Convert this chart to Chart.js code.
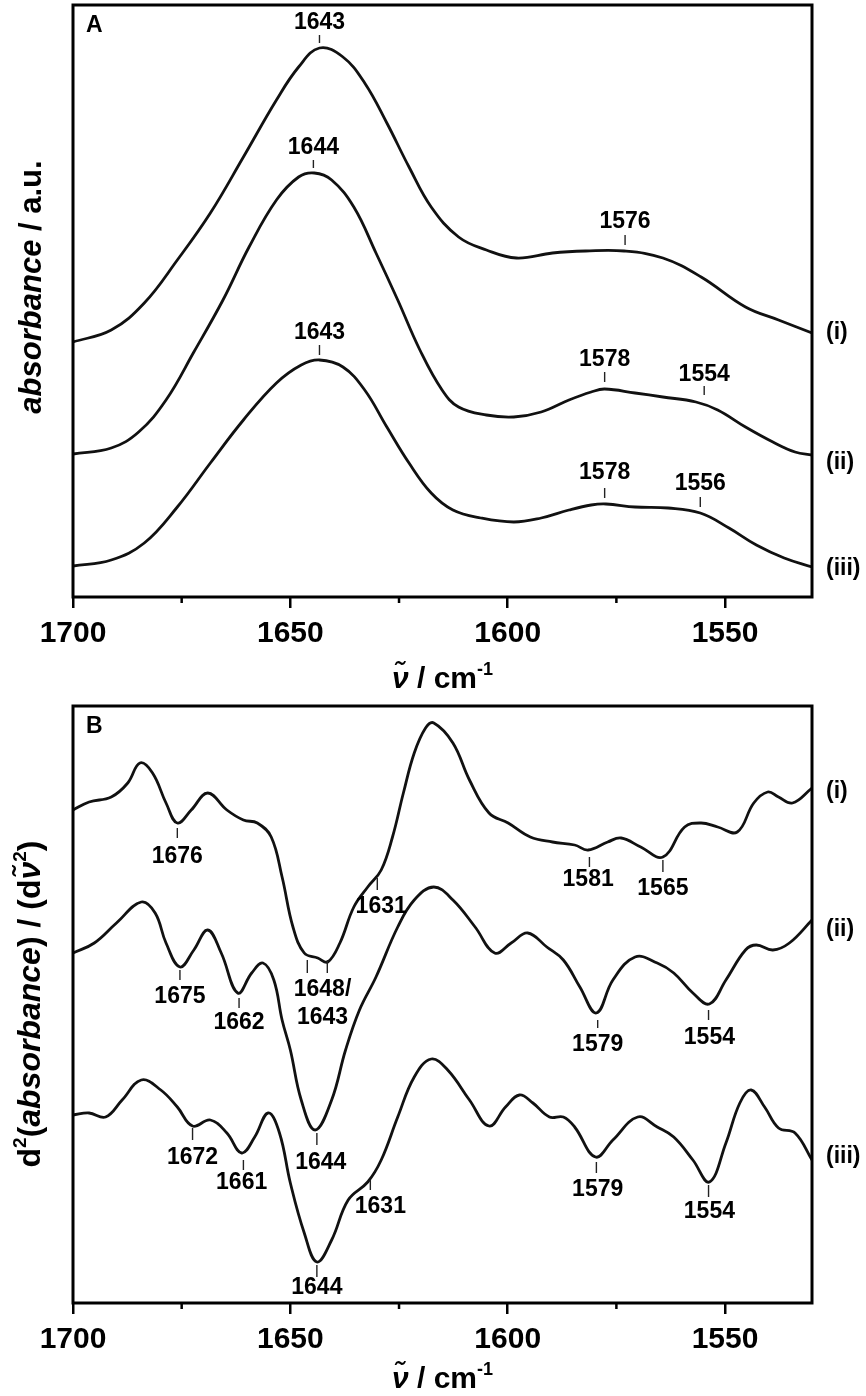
<!DOCTYPE html>
<html>
<head>
<meta charset="utf-8">
<script src="https://cdn.jsdelivr.net/npm/chart.js@4.4.0/dist/chart.umd.min.js"></script>
<style>
  body { margin: 0; background: #fff; }
  canvas { display: block; }
</style>
</head>
<body>
<canvas id="chartA" width="866" height="700"></canvas>
<canvas id="chartB" width="866" height="696"></canvas>
<script>
// Panel A: absorbance (unidades arbitrarias, curvas desplazadas)
const wnA1 = [1700, 1691.2, 1683.6, 1676, 1668.4, 1660.8, 1653.2, 1648.1, 1643.3, 1637.9, 1632.9, 1627.8, 1622.7, 1617.6, 1611.3, 1604.9, 1598, 1589.7, 1582.1, 1573.2, 1564.3, 1555.5, 1545.3, 1537.7, 1530];
const absA1 = [255, 267, 294, 337, 384, 440, 497, 530, 549, 540, 514, 474, 430, 390, 360, 347, 339, 344, 346, 346, 339, 320, 290, 277, 264];

const wnA2 = [1700, 1691.2, 1684.9, 1678.6, 1672.2, 1665.5, 1659.5, 1653.2, 1648.1, 1644.5, 1640.5, 1635.4, 1630.3, 1625.3, 1620.2, 1615.1, 1611.3, 1604.9, 1598.6, 1592.3, 1585.9, 1580.8, 1577.7, 1570.7, 1564.3, 1556.7, 1551.7, 1545.3, 1539, 1533.9, 1530];
const absA2 = [143, 149, 165, 197, 245, 297, 350, 397, 420, 424, 417, 390, 344, 297, 247, 207, 190, 182, 180, 185, 197, 205, 208, 204, 200, 195, 187, 170, 155, 145, 142];

const wnA3 = [1700, 1691.2, 1683.6, 1676, 1668.4, 1660.8, 1653.2, 1647.5, 1643.3, 1637.9, 1632.9, 1627.8, 1622.7, 1617.6, 1612.6, 1606.2, 1598.6, 1592.3, 1585.9, 1580.8, 1577.4, 1570.7, 1563.1, 1555.7, 1549.1, 1542.8, 1536.4, 1530];
const absA3 = [31, 37, 54, 90, 134, 177, 214, 232, 237, 230, 207, 170, 134, 104, 87, 79, 75, 79, 87, 92, 93, 90, 89, 84, 69, 52, 39, 30];

// Panel B: segunda derivada (curvas desplazadas)
const wnB1 = [1700, 1696.3, 1691.2, 1687.4, 1684.6, 1681.7, 1678.6, 1676, 1672.8, 1669, 1664.6, 1660.8, 1657.6, 1654.4, 1651.9, 1649.4, 1646.8, 1643.7, 1641.4, 1638.6, 1635.4, 1632.2, 1629.1, 1626.5, 1624, 1621.5, 1618.9, 1617, 1612.6, 1608.8, 1604.3, 1599.9, 1594.8, 1589.7, 1584.6, 1581.5, 1577, 1573.9, 1569.4, 1564.3, 1559.3, 1555.5, 1551.7, 1547.2, 1543.4, 1540.2, 1537.7, 1534.5, 1530];
const d2B1 = [493, 501, 506, 520, 540, 530, 500, 480, 493, 510, 493, 483, 480, 466, 426, 376, 350, 345, 341, 360, 396, 416, 433, 466, 510, 550, 575, 580, 560, 523, 490, 480, 466, 461, 458, 453, 461, 465, 456, 446, 476, 480, 476, 471, 500, 511, 506, 500, 515];

const wnB2 = [1700, 1695.1, 1690, 1684.3, 1681.1, 1678.6, 1675.4, 1672.2, 1669, 1665.9, 1662.1, 1658.9, 1656.3, 1653.8, 1651.9, 1650, 1647.5, 1644.3, 1640.5, 1637.3, 1634.1, 1630.3, 1625.3, 1621.5, 1617, 1612.6, 1607.5, 1603, 1599.2, 1595.4, 1591, 1587.2, 1583.4, 1579.6, 1575.8, 1570.7, 1565.6, 1561.8, 1557.4, 1553.6, 1549.8, 1545.3, 1542.8, 1539, 1535.2, 1530];
const d2B2 = [350, 360, 380, 401, 390, 360, 336, 353, 373, 350, 310, 330, 340, 323, 283, 253, 203, 173, 203, 253, 293, 326, 376, 403, 416, 403, 376, 350, 360, 370, 356, 343, 316, 290, 323, 346, 340, 330, 310, 299, 323, 353, 358, 353, 360, 383];

const wnB3 = [1700, 1696.3, 1692.5, 1688.7, 1684.3, 1679.8, 1676, 1672.5, 1668.4, 1664.6, 1661.2, 1658.2, 1655.1, 1652.5, 1650, 1646.8, 1643.9, 1640.5, 1636.7, 1632.2, 1629.1, 1625.3, 1621.5, 1617.6, 1613.8, 1608.8, 1604.3, 1600.5, 1597.3, 1594.2, 1590.4, 1587.2, 1584.6, 1579.8, 1575.8, 1570.1, 1565.6, 1561.8, 1557.4, 1553.6, 1549.8, 1546.6, 1544, 1540.9, 1537.7, 1533.9, 1530];
const d2B3 = [188, 190, 186, 203, 223, 213, 196, 177, 183, 170, 150, 166, 190, 170, 120, 70, 41, 63, 103, 121, 143, 186, 226, 244, 233, 203, 177, 196, 208, 200, 186, 186, 176, 146, 163, 186, 176, 166, 143, 121, 160, 200, 213, 196, 175, 170, 143];

// etiquetas de los picos (texto, x de la marca, extremos de la marca, posición del texto)
const annA_text = ['1643', '1644', '1576', '1643', '1578', '1554', '1578', '1556'];
const annA_x = [1643.3, 1644.7, 1573, 1643.3, 1577.7, 1554.8, 1577.7, 1555.7];
const annA_tx = annA_x;
const annA_y0 = [554, 429, 352, 242, 215, 202, 99, 90];
const annA_y1 = [562, 437, 362, 252, 225, 211, 109, 100];
const annA_ty = [574, 449, 375, 264, 237, 222, 124, 113];

const annB_text = ['1676', '1631', '1581', '1565', '1675', '1662', '1648/', '1643', '1579', '1554', '1672', '1661', '1644', '1631', '1644', '1579', '1554'];
const annB_x = [1676, 1630, 1581.2, 1564.3, 1675.4, 1661.8, 1646.1, 1641.5, 1579.3, 1553.8, 1672.5, 1660.8, 1643.9, 1631.6, 1643.9, 1579.6, 1553.8];
const annB_tx = [1676, 1629.1, 1581.5, 1564.3, 1675.4, 1661.8, 1642.6, 1642.6, 1579.3, 1553.6, 1672.5, 1661.2, 1643, 1629.3, 1643.9, 1579.3, 1553.6];
const annB_y0 = [475, 425, 446, 443, 333, 305, 343, 343, 283, 293, 175, 143, 170, 123, 38, 141, 118];
const annB_y1 = [465, 413, 436, 431, 323, 295, 330, 330, 275, 283, 163, 133, 158, 113, 26, 130, 106];
const annB_ty = [446, 396, 423, 414, 306, 280, 313, 285, 258, 265, 145, 120, 140, 96, 15, 113, 91];

// nombres de las curvas a la derecha
const curveNames = ['(i)', '(ii)', '(iii)'];
const namesA_y = [264, 134, 28];
const namesB_y = [511, 373, 146];

const FONT = '"Liberation Sans", Arial, sans-serif';

function toPoints(xs, ys) {
  return xs.map((x, i) => ({ x: x, y: ys[i] }));
}

// dibuja un texto con partes de distinto estilo, centrado en cx, con la linea base en cy
function drawParts(ctx, parts, cx, cy) {
  let total = 0;
  parts.forEach(p => {
    ctx.font = `${p[1]} ${p[2]}px ${FONT}`;
    total += ctx.measureText(p[0]).width;
  });
  let x = cx - total / 2;
  ctx.textAlign = 'left';
  ctx.textBaseline = 'alphabetic';
  parts.forEach(p => {
    ctx.font = `${p[1]} ${p[2]}px ${FONT}`;
    ctx.fillText(p[0], x, cy - (p[3] || 0));
    x += ctx.measureText(p[0]).width;
  });
}

function makeDecor(cfg) {
  return {
    id: 'decor' + cfg.panel,
    afterDraw(chart) {
      const ctx = chart.ctx;
      const area = chart.chartArea;
      const xs = chart.scales.x;
      const ys = chart.scales.y;
      ctx.save();
      ctx.fillStyle = '#000';
      ctx.strokeStyle = '#000';

      // marco
      ctx.lineWidth = 3;
      ctx.strokeRect(area.left, area.top, area.right - area.left, area.bottom - area.top);

      // marcas menores del eje x
      ctx.lineWidth = 2.5;
      xs.ticks.forEach(t => {
        if (t.value % 25 === 0 && t.value % 50 !== 0) {
          const px = xs.getPixelForValue(t.value);
          ctx.beginPath();
          ctx.moveTo(px, area.bottom);
          ctx.lineTo(px, area.bottom + 6);
          ctx.stroke();
        }
      });

      // etiquetas de los picos
      ctx.lineWidth = 1.4;
      ctx.strokeStyle = '#222';
      ctx.font = `bold 23px ${FONT}`;
      ctx.textAlign = 'center';
      ctx.textBaseline = 'middle';
      cfg.text.forEach((txt, i) => {
        const px = xs.getPixelForValue(cfg.x[i]);
        ctx.beginPath();
        ctx.moveTo(px, ys.getPixelForValue(cfg.y0[i]));
        ctx.lineTo(px, ys.getPixelForValue(cfg.y1[i]));
        ctx.stroke();
        ctx.fillText(txt, xs.getPixelForValue(cfg.tx[i]), ys.getPixelForValue(cfg.ty[i]));
      });

      // nombres de las curvas
      ctx.textAlign = 'left';
      curveNames.forEach((n, i) => {
        ctx.fillText(n, area.right + 14, ys.getPixelForValue(cfg.names[i]));
      });

      // letra del panel
      ctx.font = `bold 23px ${FONT}`;
      ctx.textBaseline = 'middle';
      ctx.fillText(cfg.panel, area.left + 13, area.top + 21);

      // titulo del eje x
      drawParts(ctx, [
        ['\u03BD\u0303', 'bold italic', 30],
        [' / cm', 'bold', 30],
        ['-1', 'bold', 18, 13]
      ], (area.left + area.right) / 2, area.bottom + cfg.xTitleOffset);

      // titulo del eje y (girado)
      ctx.translate(cfg.yTitleX, cfg.yTitleY);
      ctx.rotate(-Math.PI / 2);
      drawParts(ctx, cfg.yTitle, 0, 0);
      ctx.restore();
    }
  };
}

function makeChart(id, series, yMax, pad, axisHeight, decor) {
  return new Chart(document.getElementById(id), {
    type: 'line',
    data: {
      datasets: series.map(s => ({
        data: s,
        borderColor: '#111',
        borderWidth: 2.8,
        pointRadius: 0,
        tension: 0.4,
        fill: false
      }))
    },
    options: {
      responsive: false,
      animation: false,
      devicePixelRatio: 1,
      layout: { padding: pad },
      plugins: { legend: { display: false }, tooltip: { enabled: false } },
      scales: {
        x: {
          type: 'linear',
          reverse: true,
          min: 1530,
          max: 1700,
          border: { display: false },
          grid: {
            drawOnChartArea: false,
            drawTicks: true,
            tickLength: 11,
            lineWidth: 2.5,
            color: ctx => (ctx.tick && ctx.tick.value % 50 === 0 ? '#000' : 'rgba(0,0,0,0)')
          },
          ticks: {
            stepSize: 25,
            includeBounds: false,
            autoSkip: false,
            maxRotation: 0,
            padding: 8,
            color: '#000',
            font: { family: FONT, size: 30, weight: 'bold' },
            callback: v => (v % 50 === 0 ? String(v) : '')
          },
          afterFit: scale => { scale.height = axisHeight; }
        },
        y: { display: false, min: 0, max: yMax }
      }
    },
    plugins: [decor]
  });
}

makeChart('chartA',
  [toPoints(wnA1, absA1), toPoints(wnA2, absA2), toPoints(wnA3, absA3)],
  592, { top: 5, left: 73, right: 54, bottom: 0 }, 103,
  makeDecor({
    panel: 'A',
    text: annA_text, x: annA_x, tx: annA_tx, y0: annA_y0, y1: annA_y1, ty: annA_ty,
    names: namesA_y,
    xTitleOffset: 91,
    yTitleX: 41, yTitleY: 287,
    yTitle: [
      ['absorbance', 'bold italic', 31],
      [' / a.u.', 'bold', 31]
    ]
  }));

makeChart('chartB',
  [toPoints(wnB1, d2B1), toPoints(wnB2, d2B2), toPoints(wnB3, d2B3)],
  597, { top: 6, left: 73, right: 54, bottom: 0 }, 93,
  makeDecor({
    panel: 'B',
    text: annB_text, x: annB_x, tx: annB_tx, y0: annB_y0, y1: annB_y1, ty: annB_ty,
    names: namesB_y,
    xTitleOffset: 85,
    yTitleX: 40, yTitleY: 304,
    yTitle: [
      ['d', 'bold', 32],
      ['2', 'bold', 19, 14],
      ['(', 'bold', 32],
      ['absorbance', 'bold italic', 32],
      [') / (d', 'bold', 32],
      ['\u03BD\u0303', 'bold italic', 32],
      ['2', 'bold', 19, 14],
      [')', 'bold', 32]
    ]
  }));
</script>
</body>
</html>
